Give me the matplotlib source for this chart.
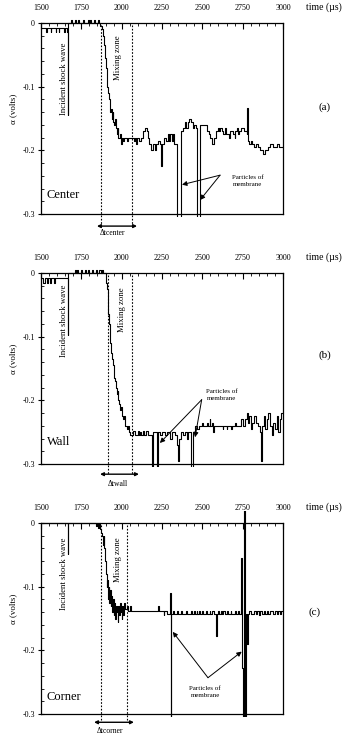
import matplotlib
matplotlib.use("Agg")
import matplotlib.pyplot as plt
from matplotlib.patches import Rectangle
from matplotlib.ticker import MultipleLocator

plt.rcParams['font.family'] = ['Liberation Serif', 'DejaVu Serif']

# ---------------- data (time in µs, signal in volts) ----------------
center_t = [1500, 1530, 1536, 1560, 1565, 1590, 1594, 1610, 1614, 1640, 1650, 1660, 1666, 1669,
            1685, 1695, 1710, 1714, 1730, 1733, 1760, 1768, 1790, 1795, 1805, 1812, 1830, 1835, 1855, 1860,
            1868, 1875, 1882, 1888, 1894, 1898, 1903, 1906, 1910, 1915, 1920, 1925, 1930, 1935, 1938,
            1944, 1948, 1954, 1960, 1963, 1968, 1975, 1980, 1990, 1996, 1999, 2010, 2015, 2035, 2040,
            2060, 2075, 2080, 2090, 2094, 2110, 2120, 2135, 2145, 2155, 2165, 2172, 2180, 2195, 2205,
            2210, 2225, 2235, 2245, 2250, 2260, 2275, 2285, 2292, 2300, 2310, 2318, 2325, 2340, 2370,
            2380, 2392, 2400, 2410, 2420, 2432, 2440, 2448, 2458, 2468, 2488, 2520, 2530, 2540, 2550,
            2560, 2575, 2585, 2595, 2605, 2612, 2620, 2630, 2640, 2648, 2665, 2670, 2690, 2700, 2705,
            2715, 2722, 2730, 2740, 2760, 2775, 2779, 2782, 2790, 2800, 2810, 2820, 2835, 2845, 2860,
            2875, 2890, 2905, 2920, 2935, 2960, 2975, 3010]
center_v = [-0.008, -0.014, -0.008, -0.014, -0.008, -0.014, -0.008, -0.014, -0.008, -0.014, -0.008, -0.014, -0.145, 0.0,
            0.004, 0.0, 0.004, 0.0, 0.004, 0.0, 0.004, 0.0, 0.004, 0.0, 0.004, 0.0, 0.004, 0.0, 0.004, 0.0,
            -0.005, -0.01, -0.02, -0.035, -0.04, -0.055, -0.07, -0.09, -0.1, -0.11, -0.12, -0.13, -0.14, -0.135, -0.15,
            -0.14, -0.155, -0.16, -0.15, -0.165, -0.175, -0.165, -0.18, -0.175, -0.19, -0.18, -0.185, -0.18, -0.185, -0.18,
            -0.18, -0.185, -0.18, -0.19, -0.18, -0.185, -0.18, -0.17, -0.165, -0.17, -0.18, -0.19, -0.2, -0.19, -0.2,
            -0.19, -0.185, -0.19, -0.225, -0.19, -0.18, -0.185, -0.175, -0.185, -0.175, -0.185, -0.175, -0.19, -0.4, -0.17,
            -0.165, -0.155, -0.165, -0.155, -0.15, -0.155, -0.165, -0.16, -0.165, -0.4, -0.16, -0.16, -0.17, -0.175, -0.18,
            -0.19, -0.18, -0.17, -0.165, -0.17, -0.165, -0.17, -0.175, -0.165, -0.175, -0.18, -0.17, -0.175, -0.18, -0.17,
            -0.165, -0.175, -0.17, -0.165, -0.17, -0.175, -0.134, -0.185, -0.19, -0.185, -0.19, -0.195, -0.19, -0.195, -0.2,
            -0.205, -0.2, -0.195, -0.19, -0.195, -0.19, -0.195, -0.195]

wall_t = [1500, 1515, 1522, 1540, 1545, 1555, 1560, 1580, 1585, 1666, 1669,
          1710, 1716, 1722, 1730, 1745, 1752, 1770, 1776, 1790, 1800, 1815, 1825, 1840, 1848, 1860, 1870, 1878, 1886,
          1900, 1905, 1910, 1914, 1918, 1922, 1926, 1930, 1935, 1940, 1945, 1950, 1955, 1960, 1965, 1970, 1975,
          1980, 1986, 1992, 1998, 2004, 2010, 2016, 2022, 2030, 2038, 2044, 2050,
          2070, 2080, 2100, 2105, 2115, 2120, 2135, 2140, 2150, 2165, 2188, 2194, 2220, 2228, 2240, 2250, 2270,
          2280, 2300, 2310, 2330, 2345, 2350, 2355, 2365, 2380, 2395, 2405, 2412, 2428, 2442, 2455, 2470, 2480,
          2500, 2505, 2530, 2535, 2545, 2550, 2560, 2565, 2570, 2625, 2630, 2650, 2655, 2680, 2685, 2700, 2710,
          2740, 2750, 2765, 2775, 2780, 2790, 2800, 2810, 2820, 2830, 2845, 2855, 2862, 2870, 2880, 2890, 2900,
          2910, 2920, 2930, 2940, 2950, 2960, 2970, 2980, 2990, 3010]
wall_v = [-0.008, -0.016, -0.008, -0.016, -0.008, -0.016, -0.008, -0.016, -0.008, -0.097, 0.0,
          0.005, 0.0, 0.005, 0.0, 0.005, 0.0, 0.005, 0.0, 0.005, 0.0, 0.005, 0.0, 0.005, 0.0, 0.005, 0.0, 0.005, 0.0,
          -0.005, -0.015, -0.025, -0.045, -0.065, -0.08, -0.095, -0.11, -0.125, -0.135, -0.145, -0.155, -0.165, -0.17, -0.18, -0.19, -0.185,
          -0.2, -0.205, -0.215, -0.21, -0.225, -0.23, -0.225, -0.24, -0.245, -0.24, -0.25, -0.255,
          -0.248, -0.255, -0.248, -0.255, -0.25, -0.255, -0.248, -0.255, -0.248, -0.255, -0.4, -0.25, -0.4, -0.25, -0.255, -0.25, -0.255,
          -0.25, -0.26, -0.25, -0.255, -0.27, -0.295, -0.26, -0.25, -0.255, -0.25, -0.26, -0.25, -0.4, -0.25, -0.24, -0.245, -0.24,
          -0.235, -0.24, -0.235, -0.24, -0.23, -0.24, -0.235, -0.25, -0.24, -0.245, -0.24, -0.245, -0.24, -0.245, -0.24, -0.235, -0.24,
          -0.23, -0.24, -0.23, -0.22, -0.235, -0.225, -0.245, -0.235, -0.225, -0.235, -0.24, -0.25, -0.295, -0.24, -0.225, -0.245, -0.23,
          -0.22, -0.24, -0.255, -0.235, -0.245, -0.225, -0.25, -0.23, -0.22, -0.235]

corner_t = [1500, 1666, 1669, 1840, 1845, 1855, 1860, 1866, 1872, 1878, 1884, 1888, 1892, 1898, 1903, 1908,
            1912, 1916, 1920, 1924, 1928, 1932, 1936, 1940, 1945, 1950, 1955, 1960, 1965, 1970, 1975, 1980,
            1986, 1990, 1995, 2000, 2005, 2010, 2015, 2020, 2030, 2040, 2050, 2055, 2225, 2230, 2260, 2265,
            2280, 2300, 2303, 2307, 2320, 2325, 2345, 2350, 2370, 2375, 2400, 2404, 2430, 2435, 2450, 2454,
            2465, 2470, 2480, 2485, 2500, 2505, 2520, 2530, 2545, 2548, 2560, 2570, 2585, 2589, 2600, 2605,
            2615, 2620, 2630, 2640, 2650, 2660, 2675, 2680, 2700, 2710, 2720, 2730, 2742, 2746, 2752, 2760,
            2764, 2769, 2774, 2780, 2790, 2800, 2820, 2830, 2840, 2850, 2860, 2870, 2880, 2890, 2900, 2910,
            2920, 2935, 2950, 2960, 2970, 2980, 2990, 3010]
corner_v = [0.0, -0.048, 0.0, -0.005, 0.0, -0.008, 0.0, -0.01, -0.015, -0.02, -0.035, -0.02, -0.04, -0.06, -0.08, -0.1,
            -0.09, -0.12, -0.1, -0.125, -0.105, -0.13, -0.115, -0.14, -0.12, -0.145, -0.125, -0.15, -0.13, -0.14, -0.155, -0.13,
            -0.145, -0.125, -0.14, -0.15, -0.13, -0.145, -0.125, -0.135, -0.13, -0.138, -0.13, -0.138, -0.13, -0.138, -0.145, -0.138,
            -0.143, -0.11, -0.4, -0.143, -0.138, -0.143, -0.138, -0.143, -0.138, -0.143, -0.138, -0.143, -0.138, -0.143, -0.138, -0.143,
            -0.138, -0.143, -0.138, -0.143, -0.138, -0.143, -0.138, -0.143, -0.138, -0.143, -0.138, -0.143, -0.177, -0.143, -0.138, -0.143,
            -0.138, -0.143, -0.138, -0.143, -0.138, -0.143, -0.138, -0.143, -0.138, -0.143, -0.138, -0.143, -0.055, -0.228, -0.4, 0.03,
            -0.4, -0.143, -0.19, -0.143, -0.138, -0.143, -0.138, -0.143, -0.138, -0.145, -0.138, -0.143, -0.138, -0.143, -0.138, -0.143,
            -0.138, -0.143, -0.138, -0.143, -0.138, -0.143, -0.138, -0.143]

panels = [
    dict(t=center_t, v=center_v, name="Center", tag="(a)", dt="Δtcenter",
         dots=(1872, 2062), arrow=(1847, 2095, -0.319), dt_xy=(1946, -0.330),
         shock_xy=(1643, -0.088), mix_xy=(1977, -0.055), tag_xy=(325, 107),
         part_xy=(2783, -0.248), arr_start=(2610, -0.239), arr_ends=[(2374, -0.254), (2486, -0.278)],
         name_xy=(1535, -0.27)),
    dict(t=wall_t, v=wall_v, name="Wall", tag="(b)", dt="Δtwall",
         dots=(1917, 2066), arrow=(1866, 2107, -0.316), dt_xy=(1977, -0.331),
         shock_xy=(1643, -0.075), mix_xy=(2000, -0.057), tag_xy=(325, 355),
         part_xy=(2622, -0.192), arr_start=(2496, -0.199), arr_ends=[(2237, -0.267), (2455, -0.258)],
         name_xy=(1535, -0.265)),
    dict(t=corner_t, v=corner_v, name="Corner", tag="(c)", dt="Δtcorner",
         dots=(1872, 2031), arrow=(1829, 2076, -0.313), dt_xy=(1928, -0.327),
         shock_xy=(1643, -0.080), mix_xy=(1977, -0.058), tag_xy=(315, 612),
         part_xy=(2517, -0.265), arr_start=(2535, -0.243), arr_ends=[(2317, -0.171), (2744, -0.202)],
         name_xy=(1535, -0.273)),
]

W, H = 344, 735
fig = plt.figure(figsize=(W / 100, H / 100), dpi=100)
tops = [23, 273, 523]
left, right = 41, 283
ah = 191

for p, top in zip(panels, tops):
    ax = fig.add_axes([left / W, 1 - (top + ah) / H, (right - left) / W, ah / H])
    line, = ax.plot(p["t"], p["v"], drawstyle="steps-post", color="black", lw=0.8)
    line.set_clip_path(Rectangle((0, -0.015), 1, 1.08, transform=ax.transAxes))
    ax.set_xlim(1500, 3000)
    ax.set_ylim(-0.3, 0)
    ax.xaxis.tick_top()
    ax.set_xticks([1500, 1750, 2000, 2250, 2500, 2750, 3000])
    ax.xaxis.set_minor_locator(MultipleLocator(50))
    ax.set_yticks([0, -0.1, -0.2, -0.3])
    ax.set_yticklabels(["0", "-0.1", "-0.2", "-0.3"])
    ax.yaxis.set_minor_locator(MultipleLocator(0.02))
    ax.tick_params(axis="x", which="major", direction="in", length=4, width=0.8, labelsize=5.8, pad=8)
    ax.tick_params(axis="x", which="minor", direction="in", length=2, width=0.6)
    ax.tick_params(axis="y", which="major", direction="inout", length=5, width=0.8, labelsize=5.8, pad=2)
    ax.tick_params(axis="y", which="minor", direction="in", length=2, width=0.6)
    for s in ax.spines.values():
        s.set_linewidth(0.9)
    ax.set_ylabel("α (volts)", fontsize=6.5)
    ax.yaxis.set_label_coords(-0.1, 0.55)

    # dotted mixing-zone bounds
    for xd in p["dots"]:
        ax.plot([xd, xd], [-0.003, p["arrow"][2]], ls=(0, (1.5, 1.5)), color="black", lw=0.8, clip_on=False)
    ax.annotate("", xy=(p["arrow"][0], p["arrow"][2]), xytext=(p["arrow"][1], p["arrow"][2]),
                arrowprops=dict(arrowstyle="<|-|>", color="black", lw=1.0, mutation_scale=5,
                                shrinkA=0, shrinkB=0), annotation_clip=False)
    ax.text(p["dt_xy"][0], p["dt_xy"][1], p["dt"], fontsize=5.5, ha="center", va="center", clip_on=False)

    ax.text(*p["shock_xy"], "Incident shock wave", rotation=90, fontsize=6.3, ha="center", va="center")
    ax.text(*p["mix_xy"], "Mixing zone", rotation=90, fontsize=6.3, ha="center", va="center")
    ax.text(*p["name_xy"], p["name"], fontsize=9, ha="left", va="center")
    ax.text(*p["part_xy"], "Particles of\nmembrane", fontsize=5, ha="center", va="center", linespacing=1.6)
    for end in p["arr_ends"]:
        ax.annotate("", xy=end, xytext=p["arr_start"],
                    arrowprops=dict(arrowstyle="-|>", color="black", lw=0.7, mutation_scale=7,
                                    shrinkA=0, shrinkB=0))
    fig.text(p["tag_xy"][0] / W, 1 - p["tag_xy"][1] / H, p["tag"], fontsize=8, ha="center", va="center")
    fig.text(324 / W, 1 - (top - 16) / H, "time (µs)", fontsize=7, ha="center", va="center")

fig.savefig("out.png", dpi=100)
